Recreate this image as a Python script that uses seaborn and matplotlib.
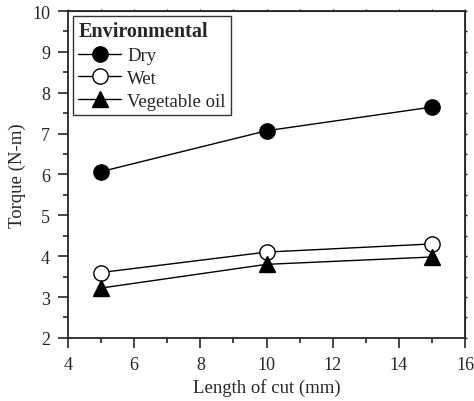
import pandas as pd
import matplotlib
matplotlib.use("Agg")
import matplotlib.pyplot as plt
import seaborn as sns
from matplotlib.ticker import MultipleLocator

# data
length_of_cut = [5, 10, 15]
dry = [6.07, 7.07, 7.65]
wet = [3.60, 4.10, 4.30]
veg_oil = [3.22, 3.80, 3.98]

sns.set_style("ticks")
plt.rcParams['font.family'] = ['Liberation Serif', 'DejaVu Serif']

fig = plt.figure(figsize=(4.74, 4.02), dpi=100)
ax = fig.add_axes([0.1435, 0.157, 0.8375, 0.813])

# marker, face colour and size for each series
series = [
    ("Dry", dry, "o", "black", 11),
    ("Wet", wet, "o", "white", 11),
    ("Vegetable oil", veg_oil, "^", "black", 11),
]
for name, vals, mk, fc, ms in series:
    df = pd.DataFrame({"x": length_of_cut, "y": vals})
    sns.lineplot(data=df, x="x", y="y", ax=ax, color="black", lw=1,
                 marker=mk, markersize=ms, markerfacecolor=fc,
                 markeredgecolor="black", markeredgewidth=1, label=name)

ax.set_xlim(4, 16)
ax.set_ylim(2, 10)
ax.xaxis.set_major_locator(MultipleLocator(2))
ax.xaxis.set_minor_locator(MultipleLocator(1))
ax.yaxis.set_major_locator(MultipleLocator(1))
ax.yaxis.set_minor_locator(MultipleLocator(0.5))
ax.set_xlabel("Length of cut (mm)", fontsize=13.5, labelpad=4)
ax.set_ylabel("Torque (N-m)", fontsize=13.5, labelpad=4)

for s in ax.spines.values():
    s.set_linewidth(1.3)
    s.set_visible(True)
ax.tick_params(which="both", direction="out", width=1.2, labelsize=13)
ax.tick_params(axis="x", which="major", length=7, pad=6)
ax.tick_params(axis="y", which="major", length=7, pad=6)
ax.tick_params(which="minor", length=3.5)

# short ticks on the top and right sides
top = ax.secondary_xaxis("top")
top.xaxis.set_major_locator(MultipleLocator(2))
top.xaxis.set_minor_locator(MultipleLocator(1))
top.tick_params(which="both", direction="out", length=1.5, width=1, labeltop=False)
right = ax.secondary_yaxis("right")
right.yaxis.set_major_locator(MultipleLocator(1))
right.yaxis.set_minor_locator(MultipleLocator(0.5))
right.tick_params(which="both", direction="out", length=1.5, width=1, labelright=False)

leg = ax.legend(title="Environmental", loc="upper left", fontsize=13.5,
                title_fontsize=14.5, frameon=True, fancybox=False,
                edgecolor="black", borderaxespad=0.25, handlelength=2.3,
                handletextpad=0.3, labelspacing=0.3, borderpad=0.3)
leg.get_title().set_fontweight("bold")
leg._legend_box.align = "left"
leg.get_frame().set_linewidth(1)

fig.savefig("out.png", dpi=100)
